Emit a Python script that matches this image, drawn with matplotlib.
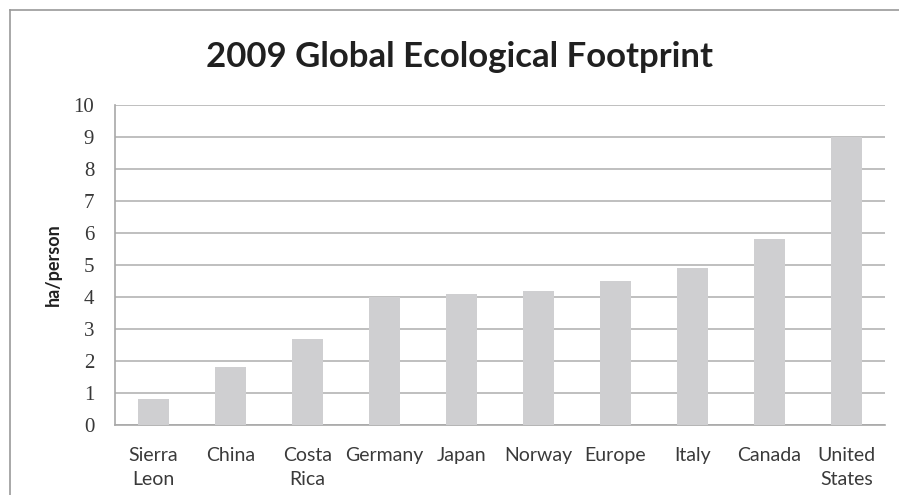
import matplotlib.pyplot as plt
from matplotlib.lines import Line2D

# Ecological footprint per person, 2009
countries = ["Sierra\nLeon", "China", "Costa\nRica", "Germany", "Japan",
             "Norway", "Europe", "Italy", "Canada", "United\nStates"]
footprint = [0.8, 1.8, 2.7, 4.0, 4.1, 4.2, 4.5, 4.9, 5.8, 9.0]
y_ticks = list(range(0, 11))

W, H = 899, 495
fig = plt.figure(figsize=(W / 100, H / 100), dpi=100)

# plot area in pixel coordinates
left, right, top, bottom = 115, 885, 105, 425
ax = fig.add_axes([left / W, 1 - bottom / H, (right - left) / W, (bottom - top) / H])

x = range(len(countries))
ax.bar(x, footprint, width=0.41, color="#cfcfd1", zorder=3)

ax.set_xlim(-0.5, len(countries) - 0.5)
ax.set_ylim(0, 10)
ax.set_yticks(y_ticks)
ax.set_yticklabels([str(t) for t in y_ticks], family="Liberation Serif",
                   fontsize=15, color="#383838")
ax.set_xticks(list(x))
ax.set_xticklabels(countries, family="Lato", fontsize=14, color="#3a3a3a",
                   linespacing=1.5, va="top")
ax.tick_params(axis="y", length=0, pad=15)
ax.tick_params(axis="x", length=0, pad=16)

ax.grid(axis="y", color="#b4b4b4", linewidth=1.2, zorder=0)
for side in ["top", "right"]:
    ax.spines[side].set_visible(False)
for side in ["left", "bottom"]:
    ax.spines[side].set_color("#a8a8a8")
    ax.spines[side].set_linewidth(1.2)

ax.set_ylabel("ha/person", family="Lato", fontweight="bold", fontsize=13,
              color="#202020", labelpad=8)

fig.text(460 / W, 1 - 57 / H, "2009 Global Ecological Footprint",
         family="Lato", fontweight="bold", fontsize=25, color="#202020",
         ha="center", va="center")

# chart frame (only top and left edges fall inside the image)
fig.add_artist(Line2D([10 / W, 1], [1 - 10 / H, 1 - 10 / H],
                      color="#9a9a9a", linewidth=1.2, transform=fig.transFigure))
fig.add_artist(Line2D([10 / W, 10 / W], [0, 1 - 10 / H],
                      color="#9a9a9a", linewidth=1.2, transform=fig.transFigure))

fig.savefig("out.png", dpi=100, facecolor="white")
